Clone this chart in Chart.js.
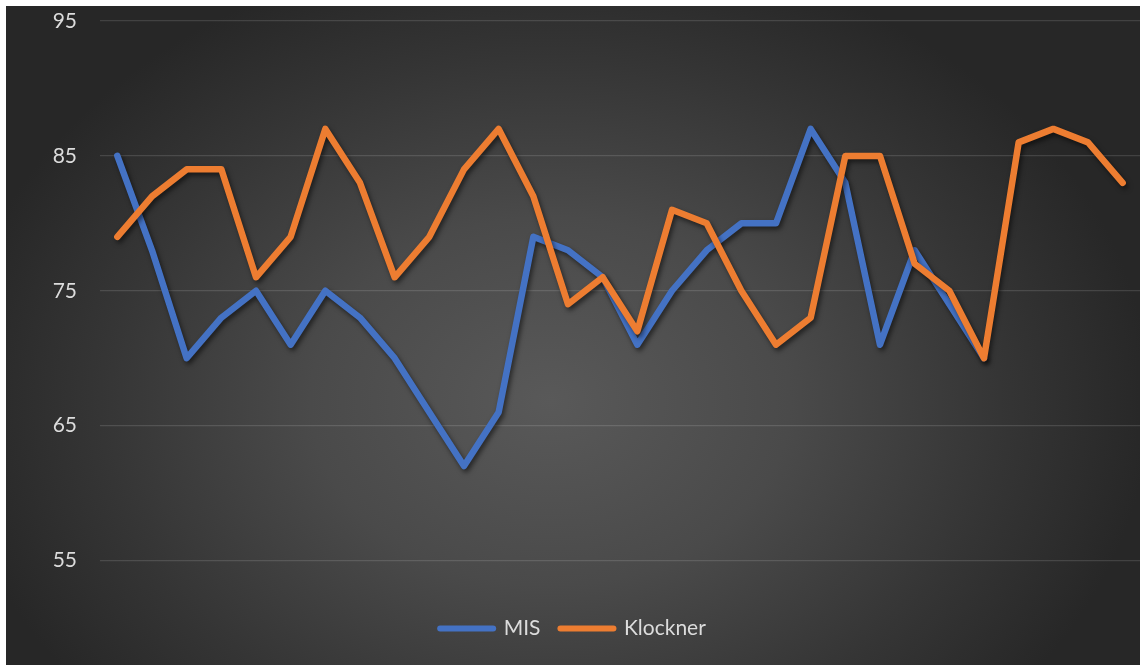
<!DOCTYPE html>
<html>
<head>
<meta charset="utf-8">
<title>MIS vs Klockner</title>
<script src="https://cdn.jsdelivr.net/npm/chart.js@4.4.1/dist/chart.umd.min.js"></script>
<style>
  html, body { margin: 0; padding: 0; background: #fff; overflow: hidden; }
  #wrap {
    position: absolute; left: 6px; top: 6px; width: 1134px; height: 659px;
    background: radial-gradient(ellipse 600px 460px at 48% 60%, #595959 0%, #4a4a4a 40%, #353535 75%, #272727 100%);
  }
</style>
</head>
<body>
<div id="wrap"><canvas id="chart" width="1134" height="659"></canvas></div>
<script>
// categories along the x axis (labels are not shown)
const categories = ['1', '2', '3', '4', '5', '6', '7', '8', '9', '10',
                    '11', '12', '13', '14', '15', '16', '17', '18', '19', '20',
                    '21', '22', '23', '24', '25', '26', '27', '28', '29', '30'];

const misValues = [85, 78, 70, 73, 75, 71, 75, 73, 70, 66,
                   62, 66, 79, 78, 76, 71, 75, 78, 80, 80,
                   87, 83, 71, 78, 74, 70, null, null, null, null];

const klocknerValues = [79, 82, 84, 84, 76, 79, 87, 83, 76, 79,
                        84, 87, 82, 74, 76, 72, 81, 80, 75, 71,
                        73, 85, 85, 77, 75, 70, 86, 87, 86, 83];

const yTicks = [55, 65, 75, 85, 95];

const BLUE = '#4472C4';
const ORANGE = '#ED7D31';
const FONT = 'Lato, "Open Sans", sans-serif';

// soft drop shadow under the series lines
const lineShadow = {
    id: 'lineShadow',
    beforeDatasetsDraw(chart) {
        const ctx = chart.ctx;
        ctx.save();
        ctx.shadowColor = 'rgba(0, 0, 0, 0.55)';
        ctx.shadowBlur = 5;
        ctx.shadowOffsetX = 2;
        ctx.shadowOffsetY = 3;
    },
    afterDatasetsDraw(chart) {
        chart.ctx.restore();
    }
};

function series(label, data, color, order) {
    return {
        label: label,
        data: data,
        borderColor: color,
        backgroundColor: color,
        borderWidth: 6.5,
        borderCapStyle: 'round',
        borderJoinStyle: 'round',
        pointRadius: 0,
        pointHoverRadius: 0,
        pointBorderWidth: 6,
        pointStyle: 'line',
        tension: 0,
        order: order
    };
}

new Chart(document.getElementById('chart'), {
    type: 'line',
    data: {
        labels: categories,
        datasets: [
            series('MIS', misValues, BLUE, 1),
            series('Klockner', klocknerValues, ORANGE, 0)
        ]
    },
    options: {
        responsive: false,
        animation: false,
        layout: { padding: { top: 15, right: 0, bottom: 16, left: 0 } },
        scales: {
            x: {
                offset: true,
                grid: { display: false },
                border: { display: false },
                ticks: { display: false },
                afterFit(scale) { scale.height = 37.5; }
            },
            y: {
                min: yTicks[0],
                max: yTicks[yTicks.length - 1],
                afterBuildTicks(scale) {
                    scale.ticks = yTicks.map(v => ({ value: v }));
                },
                afterFit(scale) {
                    scale.width = 94;
                    // tick padding is horizontal only here
                    scale.paddingTop = 12;
                    scale.paddingBottom = 12;
                },
                grid: {
                    color: 'rgba(255, 255, 255, 0.13)',
                    lineWidth: 1.2,
                    drawTicks: false
                },
                border: { display: false },
                ticks: {
                    padding: 23,
                    color: '#dcdcdc',
                    font: { family: FONT, size: 21 }
                }
            }
        },
        plugins: {
            tooltip: { enabled: false },
            legend: {
                position: 'bottom',
                labels: {
                    usePointStyle: true,
                    pointStyleWidth: 53,
                    padding: 20,
                    color: '#dcdcdc',
                    font: { family: FONT, size: 21 },
                    sort: (a, b) => a.datasetIndex - b.datasetIndex,
                    generateLabels(chart) {
                        return Chart.defaults.plugins.legend.labels.generateLabels(chart)
                            .map(item => Object.assign(item, { lineWidth: 6, lineCap: 'round' }));
                    }
                }
            }
        }
    },
    plugins: [lineShadow]
});
</script>
</body>
</html>
